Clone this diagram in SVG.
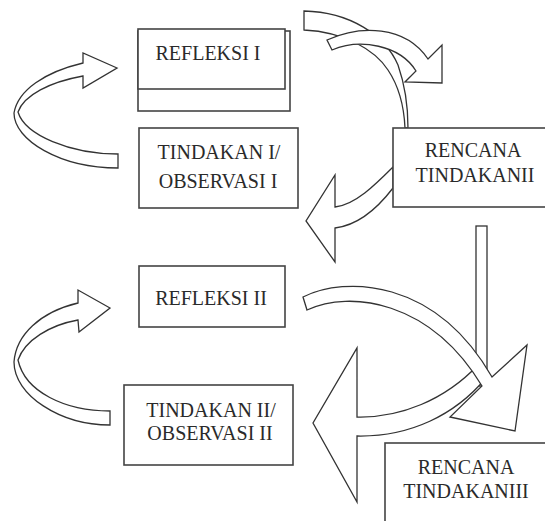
<svg xmlns="http://www.w3.org/2000/svg" width="545" height="521" viewBox="0 0 545 521">
<style>
.arr{fill:#fff;stroke:#333;stroke-width:1.3;stroke-linejoin:miter}
.box{fill:#fff;stroke:#444;stroke-width:1.6}
.t{font-family:"Liberation Serif","Times New Roman",serif;font-size:20px;fill:#2a2a2a;text-anchor:middle}
</style>
<rect width="545" height="521" fill="#fff"/>
<g id="connectors">
<path class="arr" d="M83,63 C45,72 18,90 14,113 C14,140 60,168 118,168 L118,154 C70,154 25,135 18,112 C24,95 50,82 83,76 L83,88 L117,68 L83,53 Z"/>
<path class="arr" d="M78,303 C40,312 16,335 14,362 C14,395 60,425 110,425 L110,411 C65,411 25,392 18,360 C25,340 50,325 78,320 L79,332 L110,308 L78,290 Z"/>
<path class="arr" d="M304,11 C350,12 385,35 398,65 C405,85 408,105 408,128 L405,128 C404,105 398,85 388,70 C375,50 345,32 304,30 Z"/>
<path class="arr" d="M327,40 C360,25 405,25 428,59 L442,45 L442,83 L405,82 L416,71 C400,45 360,38 332,50 Z"/>
<path class="arr" d="M393,167 C375,185 355,205 335,207 L335,175 L306,221 L335,262 L335,228 C360,225 380,205 393,188 Z"/>
<rect class="arr" x="476" y="226" width="11" height="160"/>
<path class="arr" d="M357,417 C400,418 445,400 478,365 L486,378 C455,415 410,437 357,436 L357,502 L313,423 L357,348 Z"/>
<path class="arr" d="M303,297 C345,276 435,278 492,377 L527,345 L515,431 L450,417 L482,386 C430,300 350,290 307,310 Z"/>
</g>
<g id="refleksi1">
<rect class="box" x="138" y="31" width="152" height="80"/>
<rect class="box" x="138" y="29" width="147" height="60"/>
<text class="t" x="208" y="60">REFLEKSI I</text>
</g>
<g id="tindakan1">
<rect class="box" x="139" y="128" width="159" height="80"/>
<text class="t" x="219" y="159">TINDAKAN I/</text>
<text class="t" x="218" y="188">OBSERVASI I</text>
</g>
<g id="rencana2">
<rect class="box" x="393" y="128" width="160" height="79"/>
<text class="t" x="473" y="157">RENCANA</text>
<text class="t" x="475" y="182">TINDAKANII</text>
</g>
<g id="refleksi2">
<rect class="box" x="139" y="266" width="146" height="61"/>
<text class="t" x="211" y="305">REFLEKSI II</text>
</g>
<g id="tindakan2">
<rect class="box" x="124" y="385" width="169" height="80"/>
<text class="t" x="211" y="417">TINDAKAN II/</text>
<text class="t" x="210" y="440">OBSERVASI II</text>
</g>
<g id="rencana3">
<rect class="box" x="385" y="443" width="170" height="90"/>
<text class="t" x="466" y="474">RENCANA</text>
<text class="t" x="466" y="498">TINDAKANIII</text>
</g>
</svg>
